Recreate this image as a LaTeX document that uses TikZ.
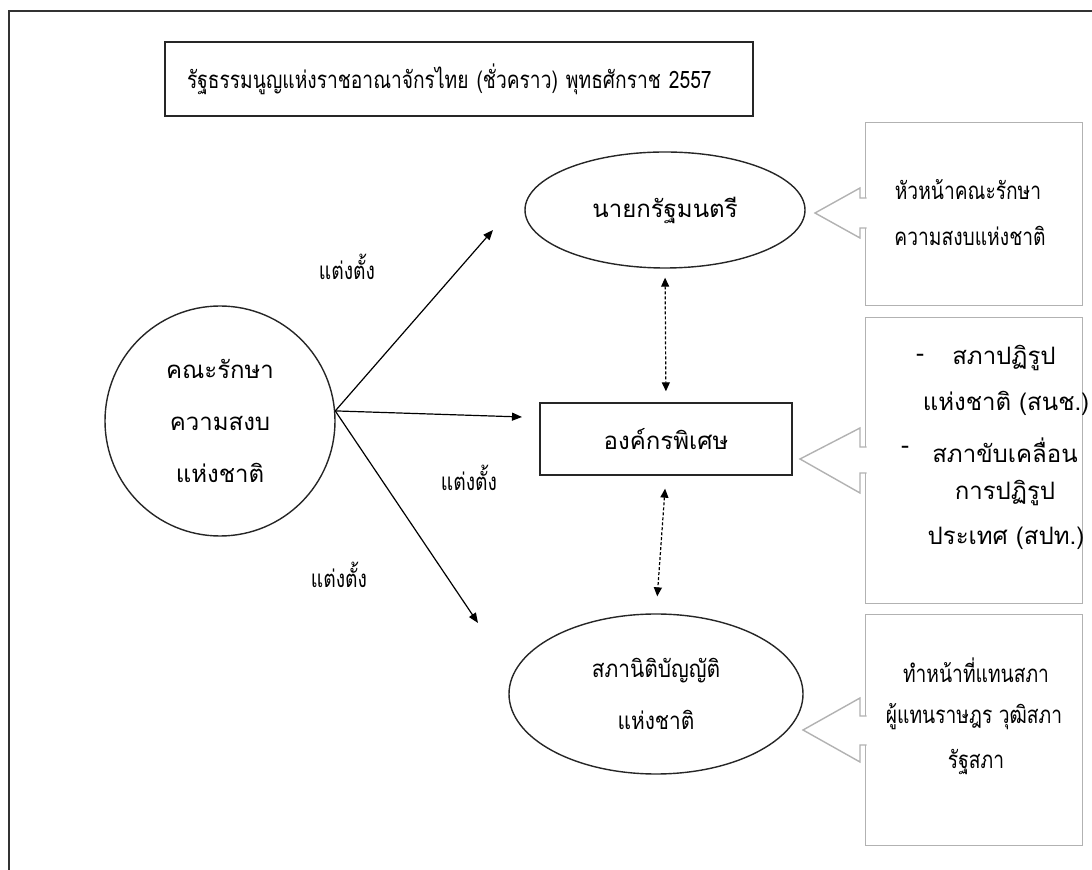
\documentclass[tikz,border=0pt]{standalone}
\usepackage{fontspec}
\newfontfamily\thaifont[Script=Thai]{Loma}
\newfontfamily\thainarrow[Script=Thai,FakeStretch=0.8]{Loma}
\newfontfamily\thaimid[Script=Thai,FakeStretch=0.87]{Loma}
\usetikzlibrary{shapes.geometric,arrows.meta}

\begin{document}
\begin{tikzpicture}[x=0.5pt,y=-0.5pt,
	thai/.style={font=\thaifont\fontsize{12}{14}\selectfont},
	narrow/.style={font=\thainarrow\fontsize{12}{14}\selectfont},
	shp/.style={draw=black!85,line width=0.7pt,thai,inner sep=0pt},
	gbox/.style={draw=black!30,line width=0.7pt,inner sep=0pt,anchor=north west,minimum width=108.5pt},
	ptr/.style={draw=black!30,line width=0.7pt,fill=white},
	appoint/.style={-{Triangle[length=5pt,width=4pt]},line width=0.6pt},
	link/.style={{Triangle[length=4.5pt,width=4pt]}-{Triangle[length=4.5pt,width=4pt]},line width=0.6pt,dash pattern=on 1.5pt off 1pt}]
	\useasboundingbox (0,0) rectangle (1092,870);
	\clip (0,0) rectangle (1092,870);
	
	%frame
	\draw[line width=1pt,black!80] (9,11) rectangle (1120,900);
	
	%title
	\node[shp,narrow,minimum width=294pt,minimum height=37pt,inner xsep=11pt,text width=272pt,align=left] (title) at (459,79) {รัฐธรรมนูญแห่งราชอาณาจักรไทย (ชั่วคราว) พุทธศักราช 2557};
	
	%main shapes
	\node[shp,circle,minimum size=115pt,align=center,font=\thaifont\fontsize{12}{26}\selectfont] (ncpo) at (220,421) {คณะรักษา\\ความสงบ\\แห่งชาติ};
	\node[shp,ellipse,minimum width=140pt,minimum height=58pt] (pm) at (665,210) {นายกรัฐมนตรี};
	\node[shp,rectangle,minimum width=126pt,minimum height=36pt] (org) at (666,439) {องค์กรพิเศษ};
	\node[shp,ellipse,minimum width=147pt,minimum height=80pt,align=center,font=\thaimid\fontsize{12}{26}\selectfont] (nla) at (656,694) {สภานิติบัญญัติ\\แห่งชาติ};
	
	%arrows
	\coordinate (tipA) at (493,230);
	\coordinate (tipB) at (522,417);
	\coordinate (tipC) at (478,623);
	\draw[appoint] (ncpo.5) -- (tipA);
	\draw[appoint] (ncpo.5) -- (tipB);
	\draw[appoint] (ncpo.5) -- (tipC);
	\draw[link,shorten <=4.5pt,shorten >=5.5pt] (pm.south) -- (org.north);
	\draw[link,shorten <=6.5pt,shorten >=8.5pt] (org.south) -- (nla.north);
	
	%arrow labels
	\node[narrow] (lblA) at (347,267) {แต่งตั้ง};
	\node[narrow] (lblB) at (469,478) {แต่งตั้ง};
	\node[narrow] (lblC) at (339,575) {แต่งตั้ง};
	
	%side boxes
	\node[gbox,minimum height=91.5pt] (box1) at (865,122) {};
	\node[gbox,minimum height=143pt] (box2) at (865,317) {};
	\node[gbox,minimum height=115.5pt] (box3) at (865,614) {};
	\filldraw[ptr] (866.5,198) -- (860,198) -- (860,188) -- (815,213) -- (860,238) -- (860,228) -- (866.5,228);	%pointer - box1
	\filldraw[ptr] (866.5,447) -- (860,447) -- (860,428) -- (800,459) -- (860,493) -- (860,473) -- (866.5,473);	%pointer - box2
	\filldraw[ptr] (866.5,716) -- (860,716) -- (860,698) -- (803,730) -- (860,762) -- (860,745) -- (866.5,745);	%pointer - box3
	
	%box texts
	\node[narrow] (t1a) at (968,190) {หัวหน้าคณะรักษา};
	\node[narrow] (t1b) at (970,236) {ความสงบแห่งชาติ};
	%
	\node[thai] (d2a) at (920,358) {-};
	\node[thai] (t2a) at (1004,358) {สภาปฏิรูป};
	\node[thai] (t2b) at (1006,403) {แห่งชาติ (สนช.)};
	\node[thai] (d2b) at (905,450) {-};
	\node[thai] (t2c) at (1005,450) {สภาขับเคลื่อน};
	\node[thai] (t2d) at (1005,493) {การปฏิรูป};
	\node[thai] (t2e) at (1006,538) {ประเทศ (สปท.)};
	%
	\node[narrow] (t3a) at (976,670) {ทำหน้าที่แทนสภา};
	\node[narrow] (t3b) at (974,717) {ผู้แทนราษฎร วุฒิสภา};
	\node[narrow] (t3c) at (976,762) {รัฐสภา};
\end{tikzpicture}
\end{document}
